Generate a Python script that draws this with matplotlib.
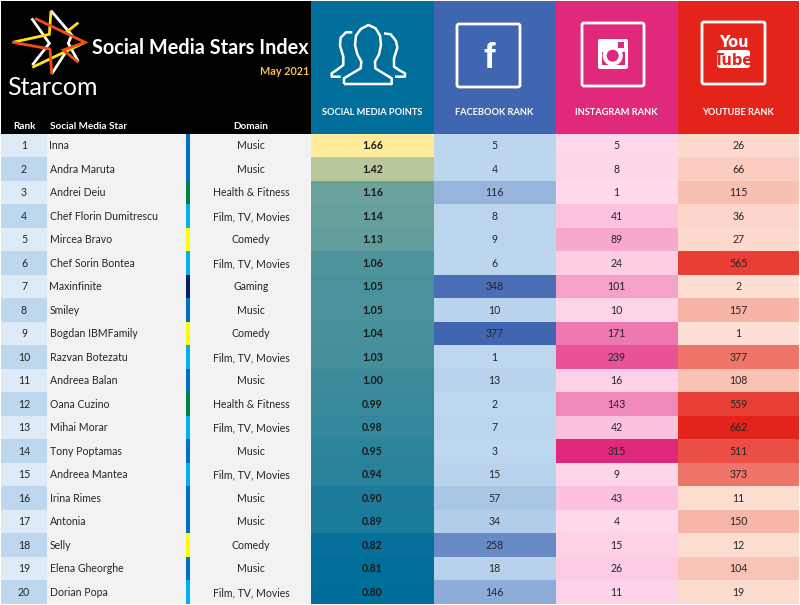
import matplotlib
matplotlib.use("Agg")
import matplotlib.pyplot as plt
import numpy as np
from matplotlib.colors import LinearSegmentedColormap, Normalize
from matplotlib.patches import Circle, FancyBboxPatch, Rectangle

plt.rcParams['font.family'] = ['Lato', 'DejaVu Sans']

# data
stars = ["Inna", "Andra Maruta", "Andrei Deiu", "Chef Florin Dumitrescu", "Mircea Bravo",
         "Chef Sorin Bontea", "Maxinfinite", "Smiley", "Bogdan IBMFamily", "Razvan Botezatu",
         "Andreea Balan", "Oana Cuzino", "Mihai Morar", "Tony Poptamas", "Andreea Mantea",
         "Irina Rimes", "Antonia", "Selly", "Elena Gheorghe", "Dorian Popa"]
domains = ["Music", "Music", "Health & Fitness", "Film, TV, Movies", "Comedy",
           "Film, TV, Movies", "Gaming", "Music", "Comedy", "Film, TV, Movies",
           "Music", "Health & Fitness", "Film, TV, Movies", "Music", "Film, TV, Movies",
           "Music", "Music", "Comedy", "Music", "Film, TV, Movies"]
points = [1.66, 1.42, 1.16, 1.14, 1.13, 1.06, 1.05, 1.05, 1.04, 1.03,
          1.00, 0.99, 0.98, 0.95, 0.94, 0.90, 0.89, 0.82, 0.81, 0.80]
facebook = [5, 4, 116, 8, 9, 6, 348, 10, 377, 1, 13, 2, 7, 3, 15, 57, 34, 258, 18, 146]
instagram = [5, 8, 1, 41, 89, 24, 101, 10, 171, 239, 16, 143, 42, 315, 9, 43, 4, 15, 26, 11]
youtube = [26, 66, 115, 36, 27, 565, 2, 157, 1, 377, 108, 559, 662, 511, 373, 11, 150, 12, 104, 19]

domain_colors = {"Music": "#0070c0", "Health & Fitness": "#00804a", "Film, TV, Movies": "#00b0f0",
                 "Comedy": "#ffff00", "Gaming": "#002060"}

ROW_TOP = 133.5
ROW_H = 23.5
row_edges = ROW_TOP + ROW_H * np.arange(len(stars) + 1)
# text baseline sits a bit under the middle of the row
row_base = (row_edges[:-1] + row_edges[1:]) / 2 + 4.2

fig = plt.figure(figsize=(8, 6.05), dpi=100, facecolor="white")
ax = fig.add_axes([0, 0, 1, 1])
ax.set_xlim(0, 800)
ax.set_ylim(605, 0)
ax.axis("off")

TEXT = "#262626"
FS = 7.6


def box(x0, x1, y0, y1, color, z=1):
    ax.add_patch(Rectangle((x0, y0), x1 - x0, y1 - y0, fc=color, ec="none", zorder=z))


def label(x, y, s, color=TEXT, size=FS, weight="normal", ha="left", **kw):
    ax.text(x, y, s, color=color, fontsize=size, fontweight=weight, ha=ha, va="baseline", zorder=8, **kw)


# header blocks
box(1, 311, 1, ROW_TOP, "black")
header_cols = [(311, 433.5, "#006f9b", "SOCIAL MEDIA POINTS"),
               (433.5, 555.5, "#4066b2", "FACEBOOK RANK"),
               (555.5, 677.5, "#e0287d", "INSTAGRAM RANK"),
               (677.5, 799, "#e4231a", "YOUTUBE RANK")]
for x0, x1, c, name in header_cols:
    box(x0, x1, 1, ROW_TOP, c)
    label((x0 + x1) / 2, 115, name, "white", 6.65, "bold", "center")

# left columns
box(47, 311, ROW_TOP, row_edges[-1], "#f2f2f2")
for i, (lo, hi) in enumerate(zip(row_edges[:-1], row_edges[1:])):
    box(1, 47, lo, hi, "#deebf7" if i % 2 == 0 else "#bdd7ee")
    box(186, 190, lo, hi, domain_colors[domains[i]], z=2)
    label(24, row_base[i], str(i + 1), ha="center")
    label(49.5, row_base[i], stars[i])
    label(251, row_base[i], domains[i], ha="center")

# heat columns
heat = [(311, 433.5, points, "#006e9b", "#ffeb9a", "{:.2f}"),
        (433.5, 555.5, facebook, "#bdd7ee", "#4066b2", "{}"),
        (555.5, 677.5, instagram, "#ffd9ec", "#e0287d", "{}"),
        (677.5, 799, youtube, "#fde0d3", "#e4231a", "{}")]
for k, (x0, x1, vals, c_lo, c_hi, fmt) in enumerate(heat):
    arr = np.array(vals, dtype=float).reshape(-1, 1)
    cmap = LinearSegmentedColormap.from_list("c%d" % k, [c_lo, c_hi])
    ax.pcolormesh([x0, x1], row_edges, arr, cmap=cmap, norm=Normalize(arr.min(), arr.max()), zorder=1)
    for i, v in enumerate(vals):
        if k == 0:
            label((x0 + x1) / 2, row_base[i], fmt.format(v), "#1a1a1a", FS, "bold", "center")
        else:
            label((x0 + x1) / 2, row_base[i], fmt.format(v), ha="center")

ax.set_xlim(0, 800)
ax.set_ylim(605, 0)

# titles
label(92, 54.5, "Social Media Stars Index", "white", 14.3, "bold")
label(309, 75, "May 2021", "#f2c14e", 7.8, "bold", "right")
label(7, 95, "Starcom", "white", 18)
label(24, 129, "Rank", "white", 7.2, "bold", "center")
label(49.5, 129, "Social Media Star", "white", 7.2, "bold")
label(251, 129, "Domain", "white", 7.2, "bold", "center")


def line(pts, color, lw=2.0, ox=0, oy=0, closed=False, join="miter"):
    p = np.array(pts, dtype=float) / 3.0 + [ox, oy]
    if closed:
        p = np.vstack([p, p[0]])
    ax.plot(p[:, 0], p[:, 1], color=color, lw=lw, solid_joinstyle=join, solid_capstyle="butt", zorder=4)


# logo star
WHITE, YEL, ORG = "white", "#ffe11a", "#f04e14"
line([(153, 32), (215, 105), (205, 130), (235, 185)], WHITE)
line([(95, 55), (148, 130), (97, 195)], WHITE)
line([(155, 222), (195, 160)], WHITE)
line([(38, 127), (148, 103), (153, 32)], YEL)
line([(235, 68), (198, 97)], YEL)
line([(97, 202), (255, 127)], YEL)
line([(105, 55), (255, 127), (190, 150), (235, 187)], ORG)
line([(38, 127), (150, 147), (155, 222)], ORG)

# people icon
line([(72, 207), (72, 190), (95, 176), (122, 160), (124, 140), (112, 118), (105, 90), (108, 62), (122, 42),
      (145, 30), (167, 40), (180, 62), (183, 90), (177, 118), (165, 140), (166, 160), (192, 176),
      (215, 190), (215, 207)], "white", lw=1.8, ox=320, oy=15, closed=True, join="round")
line([(97, 52), (78, 52), (62, 68), (60, 92), (70, 125), (70, 150), (50, 165), (35, 175), (35, 185), (62, 185)],
     "white", lw=1.8, ox=320, oy=15, join="round")
line([(192, 55), (212, 58), (228, 78), (232, 98), (222, 130), (222, 155), (240, 167), (255, 175), (255, 185),
      (225, 185)], "white", lw=1.8, ox=320, oy=15, join="round")


def icon_box(x0, x1, y0, y1):
    ax.add_patch(FancyBboxPatch((x0 + 2, y0 + 2), x1 - x0 - 4, y1 - y0 - 4, boxstyle="round,pad=2",
                                fc="none", ec="white", lw=2.0, zorder=4))


icon_box(457, 520, 24, 87)
icon_box(582, 644, 23, 86)
icon_box(702, 765, 22, 84)

label(489, 68.5, "f", "white", 25, "bold", "center", family="Liberation Sans")

# instagram camera
PINK = "#e0287d"
ax.add_patch(FancyBboxPatch((600, 41), 26, 26, boxstyle="round,pad=2", fc="white", ec="none", zorder=4))
box(602, 625, 52, 64.5, PINK, z=5)
ax.add_patch(Circle((612.7, 55.7), 10, fc="white", ec="none", zorder=6))
ax.add_patch(Circle((612.7, 55.7), 6, fc=PINK, ec="none", zorder=7))
box(617.5, 623.5, 42, 48, PINK, z=6)

# youtube logo
label(733.5, 47, "You", "white", 10.5, "bold", "center", family="Liberation Sans Narrow")
ax.add_patch(FancyBboxPatch((720, 53), 27, 12, boxstyle="round,pad=3", fc="white", ec="none", zorder=4))
label(733.5, 65, "Tube", "#e4231a", 10.5, "bold", "center", family="Liberation Sans Narrow")

fig.savefig("out.png", dpi=100)
